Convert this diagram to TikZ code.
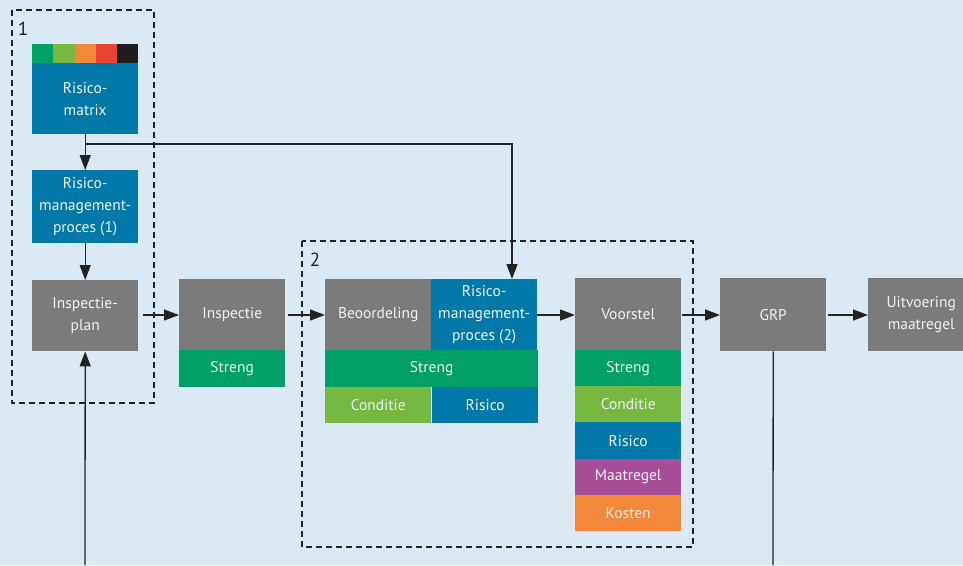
\documentclass[tikz,border=0pt]{standalone}
\usepackage{fontspec}
\setmainfont{PT Sans}
\usetikzlibrary{arrows.meta,positioning}
\definecolor{bg}{HTML}{DAE9F3}
\definecolor{cgray}{HTML}{7B7B7B}
\definecolor{cblue}{HTML}{0079A8}
\definecolor{cgreen}{HTML}{00A066}
\definecolor{clgreen}{HTML}{76B842}
\definecolor{corange}{HTML}{F3873A}
\definecolor{cred}{HTML}{E84235}
\definecolor{cblack}{HTML}{1D1D1B}
\definecolor{cpurple}{HTML}{A84D98}
\definecolor{ctext}{HTML}{EEF2F2}
\definecolor{cline}{HTML}{222222}
\tikzset{
  box/.style={rectangle, inner sep=0pt, minimum width=106pt, anchor=north west,
    text=ctext, align=center, font=\fontsize{15.5}{22}\selectfont},
  seg/.style={rectangle, inner sep=0pt, minimum width=21.2pt, minimum height=19pt, anchor=north west},
  arr/.style={draw=cline, line width=1.3pt, -{Triangle[length=15pt,width=11pt]}},
  ln/.style={draw=cline, line width=1.3pt},
  frame/.style={draw=cline, line width=1.1pt, dash pattern=on 6pt off 4pt},
  lbl/.style={font=\fontsize{19}{20}\selectfont, text=cline, inner sep=0pt}
}
\begin{document}
\begin{tikzpicture}[x=1pt,y=-1pt]
\useasboundingbox (0,0) rectangle (963,565);
\fill[bg] (0,0) rectangle (963,565);
% frames
\draw[frame] (12,10) rectangle (154,403);
\draw[frame] (302,241) rectangle (693,547);
\node[lbl] (l1) at (23,29) {1};
\node[lbl] (l2) at (315,260) {2};
% colour bar
\node[seg, fill=cgreen] (c1) at (32,44) {};
\node[seg, fill=clgreen] (c2) at (53.2,44) {};
\node[seg, fill=corange] (c3) at (74.4,44) {};
\node[seg, fill=cred] (c4) at (95.6,44) {};
\node[seg, fill=cblack] (c5) at (116.8,44) {};
% column 1
\node[box, fill=cblue, minimum height=71pt] (rm) at (32,63) {Risico-\\matrix};
\node[box, fill=cblue, minimum height=73pt] (rmp1) at (32,170) {Risico-\\management-\\proces (1)};
\node[box, fill=cgray, minimum height=71pt] (ipl) at (32,280) {Inspectie-\\plan};
% inspectie
\node[box, fill=cgray, minimum height=71pt] (insp) at (179,279) {Inspectie};
\node[box, fill=cgreen, minimum height=37pt] (str1) at (179,350) {Streng};
% beoordeling
\node[box, fill=cgray, minimum height=71pt] (beo) at (325,279) {Beoordeling};
\node[box, fill=cblue, minimum height=71pt] (rmp2) at (431,279) {Risico-\\management-\\proces (2)};
\node[box, fill=cgreen, minimum height=37pt, minimum width=213pt] (str2) at (325,350) {Streng};
\node[box, fill=clgreen, minimum height=36pt] (cond2) at (325,387) {Conditie};
\node[box, fill=cblue, minimum height=36pt] (ris2) at (432,387) {Risico};
% voorstel
\node[box, fill=cgray, minimum height=72pt] (voor) at (575,278) {Voorstel};
\node[box, fill=cgreen, minimum height=36pt] (str3) at (575,350) {Streng};
\node[box, fill=clgreen, minimum height=36pt] (cond3) at (575,386) {Conditie};
\node[box, fill=cblue, minimum height=37pt] (ris3) at (575,422) {Risico};
\node[box, fill=cpurple, minimum height=36pt] (maat3) at (575,459) {Maatregel};
\node[box, fill=corange, minimum height=36pt] (kost3) at (575,495) {Kosten};
% grp & uitvoering
\node[box, fill=cgray, minimum height=73pt] (grp) at (720,278) {GRP};
\node[box, fill=cgray, minimum height=73pt] (uitv) at (868,278) {Uitvoering\\maatregel};
% connectors
\coordinate (j) at (85,144);
\coordinate (b1) at (85,565);
\coordinate (b2) at (773,565);
\coordinate (t2) at (512,279);
\draw[arr] (rm.south) -- (rmp1.north);
\draw[arr] (j) -| (t2);
\draw[arr] (rmp1.south) -- (ipl.north);
\draw[arr] (b1) -- (ipl.south);
\draw[arr, shorten <=5pt] (ipl.east |- 0,315) -- (insp.west |- 0,315);
\draw[arr, shorten <=3pt] (insp.east |- 0,315) -- (beo.west |- 0,315);
\draw[arr] (rmp2.east |- 0,315) -- (voor.west |- 0,315);
\draw[arr, shorten <=1pt] (voor.east |- 0,315) -- (grp.west |- 0,315);
\draw[arr, shorten <=2pt] (grp.east |- 0,315) -- (uitv.west |- 0,315);
\draw[ln] (grp.south) -- (b2);
\end{tikzpicture}
\end{document}
